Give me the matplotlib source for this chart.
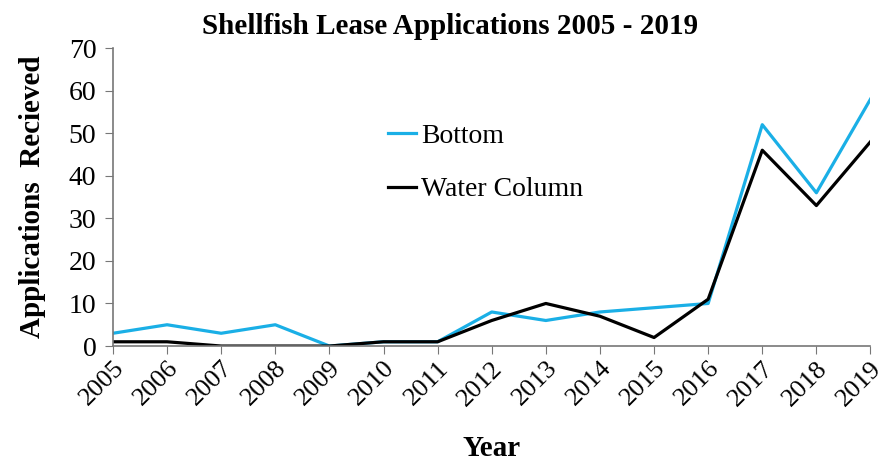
import matplotlib
matplotlib.use("Agg")
import matplotlib.pyplot as plt

years = list(range(2005, 2020))
bottom = [3, 5, 3, 5, 0, 1, 1, 8, 6, 8, 9, 10, 52, 36, 58]
water_column = [1, 1, 0, 0, 0, 1, 1, 6, 10, 7, 2, 11, 46, 33, 48]

plt.rcParams['font.family'] = ['Liberation Serif', 'DejaVu Serif']

fig = plt.figure(figsize=(8.86, 4.62), dpi=100)
ax = fig.add_axes([0.1275, 0.251, 0.855, 0.645])

ax.plot(years, bottom, color='#1AAFE6', lw=2.3, label='Bottom')
ax.plot(years, water_column, color='black', lw=2.3, label='Water Column')

ax.set_xlim(2005, 2019)
ax.set_ylim(0, 70)
ax.set_yticks(range(0, 71, 10))
ax.set_xticks(years)
ax.set_xticklabels([str(y) for y in years], rotation=45, ha='right', rotation_mode='anchor')
ax.tick_params(axis='both', labelsize=20, color='#777777', length=6, direction='out')
ax.tick_params(axis='x', labelsize=19, pad=2)
ax.tick_params(axis='y', pad=6)

for s in ['top', 'right']:
    ax.spines[s].set_visible(False)
for s in ['left', 'bottom']:
    ax.spines[s].set_color('#777777')
    ax.spines[s].set_linewidth(1.2)

fig.suptitle('Shellfish Lease Applications 2005 - 2019', fontsize=21, fontweight='bold',
             x=0.508, y=0.972)
ax.set_xlabel('Year', fontsize=21, fontweight='bold', labelpad=18)
ax.set_ylabel('Applications  Recieved', fontsize=21, fontweight='bold', labelpad=16)

ax.legend(loc='upper left', bbox_to_anchor=(0.33, 0.83), frameon=False, fontsize=20,
          handlelength=1.0, handletextpad=0.2, labelspacing=1.0)

fig.savefig('out.png', dpi=100)
